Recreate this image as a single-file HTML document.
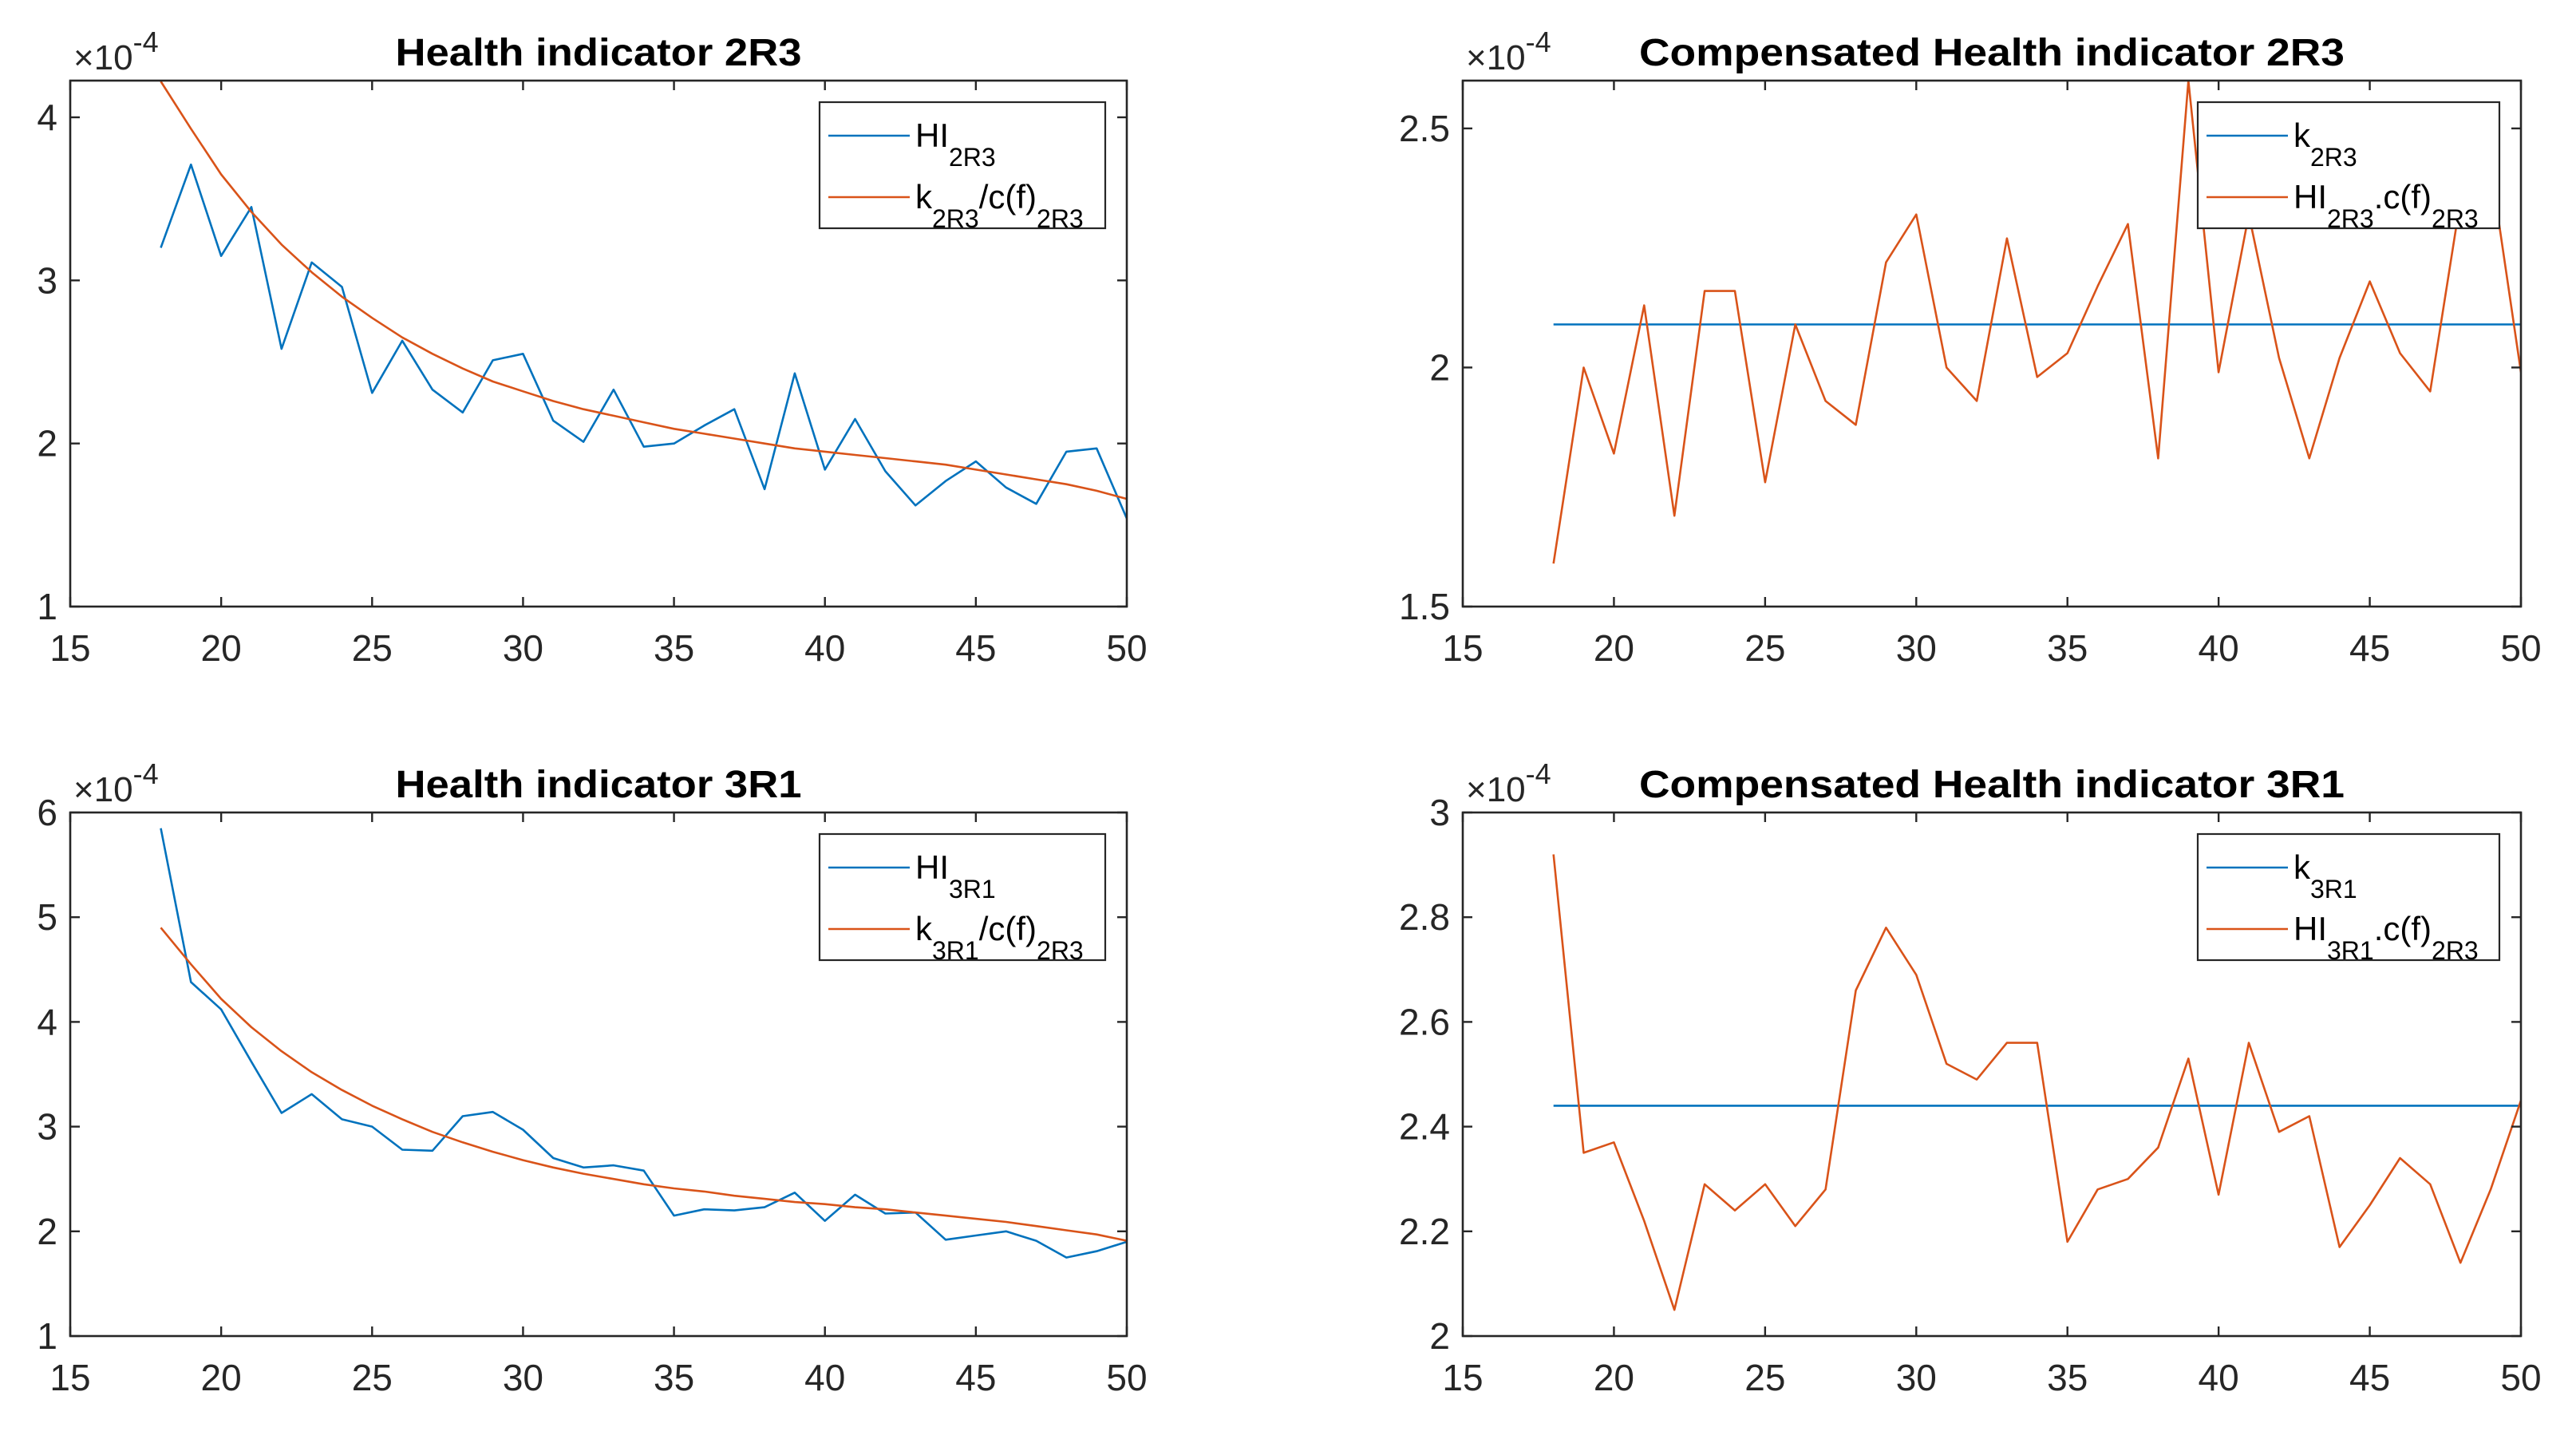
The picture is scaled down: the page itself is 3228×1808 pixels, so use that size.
<!DOCTYPE html>
<html><head><meta charset="utf-8"><style>
html,body{margin:0;padding:0;background:#fff;}
svg{display:block;font-family:"Liberation Sans",Arial,sans-serif;}
</style></head><body>
<svg id="fig" width="3228" height="1808" viewBox="0 0 3228 1808" xmlns="http://www.w3.org/2000/svg">
<rect width="3228" height="1808" fill="#fff"/>
</svg>
<script>
const xs = [18,19,20,21,22,23,24,25,26,27,28,29,30,31,32,33,34,35,36,37,38,39,40,41,42,43,44,45,46,47,48,49,50];
const hi2r3 = [3.2,3.71,3.15,3.45,2.58,3.11,2.96,2.31,2.63,2.33,2.19,2.51,2.55,2.14,2.01,2.33,1.98,2.0,2.11,2.21,1.72,2.43,1.84,2.15,1.83,1.62,1.77,1.89,1.73,1.63,1.95,1.97,1.54];
const fit2r3 = [4.22,3.93,3.65,3.42,3.22,3.05,2.9,2.77,2.65,2.55,2.46,2.38,2.32,2.26,2.21,2.17,2.13,2.09,2.06,2.03,2.0,1.97,1.95,1.93,1.91,1.89,1.87,1.84,1.81,1.78,1.75,1.71,1.66];
const k2r3 = 2.09;
const comp2r3 = [1.59,2.0,1.82,2.13,1.69,2.16,2.16,1.76,2.09,1.93,1.88,2.22,2.32,2.0,1.93,2.27,1.98,2.03,2.17,2.3,1.81,2.6,1.99,2.32,2.02,1.81,2.02,2.18,2.03,1.95,2.35,2.42,1.99];
const hi3r1 = [5.85,4.38,4.12,3.62,3.13,3.31,3.07,3.0,2.78,2.77,3.1,3.14,2.97,2.7,2.61,2.63,2.58,2.15,2.21,2.2,2.23,2.37,2.1,2.35,2.17,2.18,1.92,1.96,2.0,1.91,1.75,1.81,1.9];
const fit3r1 = [4.9,4.55,4.22,3.95,3.72,3.52,3.35,3.2,3.07,2.95,2.85,2.76,2.68,2.61,2.55,2.5,2.45,2.41,2.38,2.34,2.31,2.28,2.26,2.23,2.21,2.18,2.15,2.12,2.09,2.05,2.01,1.97,1.91];
const k3r1 = 2.44;
const comp3r1 = [2.92,2.35,2.37,2.22,2.05,2.29,2.24,2.29,2.21,2.28,2.66,2.78,2.69,2.52,2.49,2.56,2.56,2.18,2.28,2.3,2.36,2.53,2.27,2.56,2.39,2.42,2.17,2.25,2.34,2.29,2.14,2.28,2.45];
const xTicks = [15,20,25,30,35,40,45,50];
const yTicks1 = [1,2,3,4];
const yTicks2 = ["1.5","2","2.5"];
const yTicks3 = [1,2,3,4,5,6];
const yTicks4 = ["2","2.2","2.4","2.6","2.8","3"];

const NS="http://www.w3.org/2000/svg";
const svg=document.getElementById('fig');
const BLUE="#0072BD", ORANGE="#D95319";
function el(tag,attrs,parent){const e=document.createElementNS(NS,tag);for(const k in attrs)e.setAttribute(k,attrs[k]);(parent||svg).appendChild(e);return e;}

function richText(parent,segs){
  let cur=0;
  segs.forEach(([s,isSub])=>{
    const target=isSub?24:0;
    const t=el('tspan',{dy:target-cur,'font-size':isSub?32:42},parent);
    t.textContent=s;
    cur=target;
  });
}

function panel(cfg){
  const g=el('g',{});
  
  
  const L=cfg.L,R=cfg.R,T=cfg.T,B=cfg.B;
  const sx=v=>L+(v-15)/(50-15)*(R-L);
  const sy=v=>B-(v-cfg.ymin)/(cfg.ymax-cfg.ymin)*(B-T);
  el('rect',{x:L,y:T,width:R-L,height:B-T,fill:'#fff'},g);
  const cid='clip'+cfg.name;
  const cp=el('clipPath',{id:cid},g);el('rect',{x:L,y:T,width:R-L,height:B-T},cp);
  cfg.series.forEach(s=>{
    let pts;
    if(s.constant!==undefined) pts=[[sx(xs[0]),sy(s.constant)],[sx(xs[xs.length-1]),sy(s.constant)]];
    else pts=xs.map((x,i)=>[sx(x),sy(s.data[i])]);
    const p=el('polyline',{points:pts.map(p=>p[0].toFixed(1)+','+p[1].toFixed(1)).join(' '),fill:'none',stroke:s.color,'stroke-width':2.6,'clip-path':'url(#'+cid+')','stroke-linejoin':'round'},g);
    
    
  });
  const box=el('rect',{x:L,y:T,width:R-L,height:B-T,fill:'none',stroke:'#262626','stroke-width':2.6},g);
  
  
  xTicks.forEach(t=>{
    const x=sx(t);
    el('line',{x1:x,y1:B,x2:x,y2:B-12,stroke:'#262626','stroke-width':2.4},g);
    el('line',{x1:x,y1:T,x2:x,y2:T+12,stroke:'#262626','stroke-width':2.4},g);
    const tx=el('text',{x:x,y:B+68,'font-size':46,'text-anchor':'middle',fill:'#262626'},g);
    tx.textContent=t;
    
    
  });
  cfg.yticks.forEach(t=>{
    const y=sy(parseFloat(t));
    el('line',{x1:L,y1:y,x2:L+12,y2:y,stroke:'#262626','stroke-width':2.4},g);
    el('line',{x1:R,y1:y,x2:R-12,y2:y,stroke:'#262626','stroke-width':2.4},g);
    const ty=el('text',{x:L-16,y:y+16,'font-size':46,'text-anchor':'end',fill:'#262626'},g);
    ty.textContent=t;
    
    
  });
  const ex=el('text',{x:L+4,y:T-14,'font-size':44,fill:'#262626'},g);
  
  
  ex.innerHTML='×10<tspan dy="-22" font-size="36">-4</tspan>';
  const ti=el('text',{x:(L+R)/2,y:T-19,'font-size':48,'font-weight':'bold','text-anchor':'middle',fill:'#000',textLength:cfg.tw,lengthAdjust:'spacingAndGlyphs'},g);
  ti.textContent=cfg.title;
  
  
  const lg=el('g',{},g);
  
  
  const lx=cfg.legX, ly=T+27;
  el('rect',{x:lx,y:ly,width:cfg.legW,height:158,fill:'#fff',stroke:'#262626','stroke-width':2.2},lg);
  cfg.legend.forEach((it,i)=>{
    const yy=ly+42+i*77;
    el('line',{x1:lx+11,y1:yy,x2:lx+113,y2:yy,stroke:it.color,'stroke-width':2.6},lg);
    const t=el('text',{x:lx+120,y:yy+14,'font-size':42,fill:'#000'},lg);
    richText(t,it.segs);
    
    
  });
}
panel({name:'health-indicator-2r3',L:88,R:1412,T:101,B:760,ymin:1,ymax:4.225,yticks:yTicks1,title:'Health indicator 2R3',tw:509,legX:1027,legW:358,
  series:[{name:'hi-2r3-line',data:hi2r3,color:BLUE},{name:'fit-2r3-line',data:fit2r3,color:ORANGE}],
  legend:[{color:BLUE,segs:[['HI',0],['2R3',1]]},{color:ORANGE,segs:[['k',0],['2R3',1],['/c(f)',0],['2R3',1]]}]});
panel({name:'compensated-health-indicator-2r3',L:1833,R:3159,T:101,B:760,ymin:1.5,ymax:2.6,yticks:yTicks2,title:'Compensated Health indicator 2R3',tw:884,legX:2754,legW:378,
  series:[{name:'k-2r3-line',constant:k2r3,color:BLUE},{name:'compensated-2r3-line',data:comp2r3,color:ORANGE}],
  legend:[{color:BLUE,segs:[['k',0],['2R3',1]]},{color:ORANGE,segs:[['HI',0],['2R3',1],['.c(f)',0],['2R3',1]]}]});
panel({name:'health-indicator-3r1',L:88,R:1412,T:1018,B:1674,ymin:1,ymax:6,yticks:yTicks3,title:'Health indicator 3R1',tw:509,legX:1027,legW:358,
  series:[{name:'hi-3r1-line',data:hi3r1,color:BLUE},{name:'fit-3r1-line',data:fit3r1,color:ORANGE}],
  legend:[{color:BLUE,segs:[['HI',0],['3R1',1]]},{color:ORANGE,segs:[['k',0],['3R1',1],['/c(f)',0],['2R3',1]]}]});
panel({name:'compensated-health-indicator-3r1',L:1833,R:3159,T:1018,B:1674,ymin:2,ymax:3,yticks:yTicks4,title:'Compensated Health indicator 3R1',tw:884,legX:2754,legW:378,
  series:[{name:'k-3r1-line',constant:k3r1,color:BLUE},{name:'compensated-3r1-line',data:comp3r1,color:ORANGE}],
  legend:[{color:BLUE,segs:[['k',0],['3R1',1]]},{color:ORANGE,segs:[['HI',0],['3R1',1],['.c(f)',0],['2R3',1]]}]});
</script>
</body></html>
